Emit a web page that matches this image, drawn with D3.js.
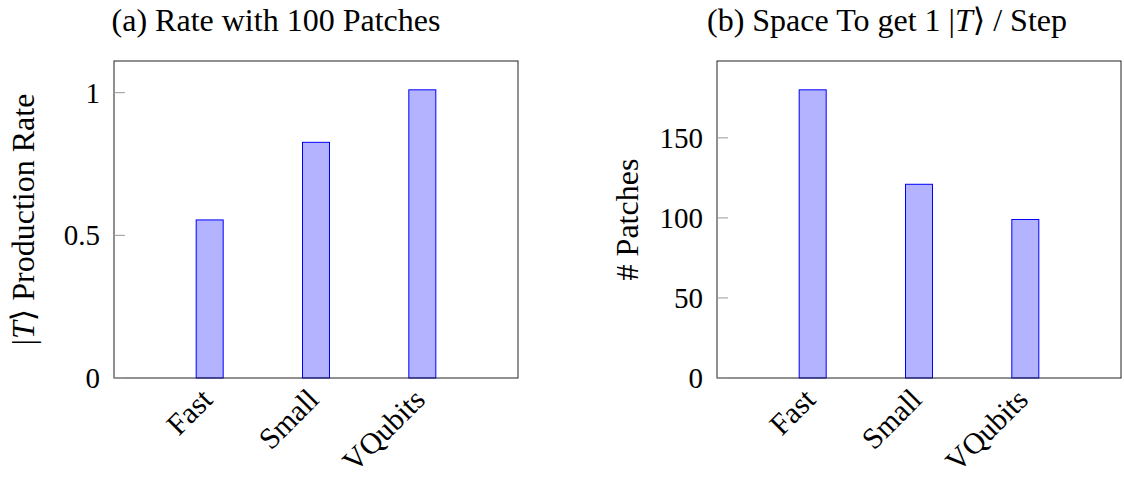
<!DOCTYPE html>
<html>
<head>
<meta charset="utf-8">
<script src="https://cdn.jsdelivr.net/npm/d3@7"></script>
<style>
  body { margin: 0; background: #fff; }
  text { font-family: "Liberation Serif", "DejaVu Serif", serif; fill: #000; }
</style>
</head>
<body>
<svg id="chart" width="1124" height="480"></svg>
<script>
// data
var categories = ["Fast", "Small", "VQubits"];
var rateValues = [0.554, 0.826, 1.01];
var patchValues = [180, 121, 99];
var rateTicks = [0, 0.5, 1];
var rateTickLabels = ["0", "0.5", "1"];
var patchTicks = [0, 50, 100, 150];
var patchTickLabels = ["0", "50", "100", "150"];

var svg = d3.select("#chart");
var top_ = 61, bottom = 378;
var tickSize = 29, labelSize = 32, catSize = 30;

function drawpanel(left, right, values, ticks, tickLabels, title, titleX, ylabelX, ylabel){
    // x scale: category index, padded like pgfplots enlarge x limits
    var x = d3.scaleLinear().domain([0.1, 3.9]).range([left, right]);
    // y scale: 0 up to max + 10%
    var y = d3.scaleLinear().domain([0, d3.max(values) * 1.1]).range([bottom, top_]);
    var barw = 27;

    var g = svg.append("g");

    // bars
    g.selectAll(".bar")
        .data(values)
        .enter().append("rect")
        .attr("x", function(d, i) { return x(i + 1) - barw / 2; })
        .attr("width", barw)
        .attr("y", function(d) { return y(d); })
        .attr("height", function(d) { return bottom - y(d); })
        .style("fill", "#b3b3ff")
        .style("stroke", "#0000ff")
        .style("stroke-width", 1);

    // frame
    g.append("rect")
        .attr("x", left).attr("y", top_)
        .attr("width", right - left).attr("height", bottom - top_)
        .style("fill", "none").style("stroke", "#222").style("stroke-width", 1);

    // y ticks (inside) and labels
    g.selectAll(".ytick")
        .data(ticks)
        .enter().append("line")
        .attr("x1", left).attr("x2", left + 11)
        .attr("y1", function(d) { return y(d); })
        .attr("y2", function(d) { return y(d); })
        .style("stroke", "#999").style("stroke-width", 1);

    g.selectAll(".ylab")
        .data(ticks)
        .enter().append("text")
        .attr("x", left - 14)
        .attr("y", function(d) { return y(d); })
        .attr("dy", "0.35em")
        .attr("text-anchor", "end")
        .style("font-size", tickSize + "px")
        .text(function(d, i) { return tickLabels[i]; });

    // x labels rotated 45
    g.selectAll(".xlab")
        .data(categories)
        .enter().append("text")
        .attr("transform", function(d, i) { return "translate(" + (x(i + 1) - 3) + "," + (bottom + 16) + ") rotate(-45)"; })
        .attr("dy", "0.35em")
        .attr("text-anchor", "end")
        .style("font-size", catSize + "px")
        .text(function(d) { return d; });

    // title
    var t = g.append("text")
        .attr("x", titleX).attr("y", 31)
        .attr("text-anchor", "middle")
        .style("font-size", labelSize + "px");
    title(t);

    // y label
    var yl = g.append("text")
        .attr("transform", "translate(" + ylabelX + "," + ((top_ + bottom) / 2) + ") rotate(-90)")
        .attr("text-anchor", "middle")
        .style("font-size", labelSize + "px");
    ylabel(yl);
}

drawpanel(114, 518, rateValues, rateTicks, rateTickLabels,
    function(t) { t.text("(a) Rate with 100 Patches"); },
    276, 34,
    function(t) {
        t.append("tspan").text("|");
        t.append("tspan").style("font-style", "italic").text("T");
        t.append("tspan").text("\u27E9 Production Rate");
    });

drawpanel(717, 1121, patchValues, patchTicks, patchTickLabels,
    function(t) {
        t.append("tspan").text("(b) Space To get 1 |");
        t.append("tspan").style("font-style", "italic").text("T");
        t.append("tspan").text("\u27E9 / Step");
    },
    887, 638,
    function(t) { t.text("# Patches"); });
</script>
</body>
</html>
